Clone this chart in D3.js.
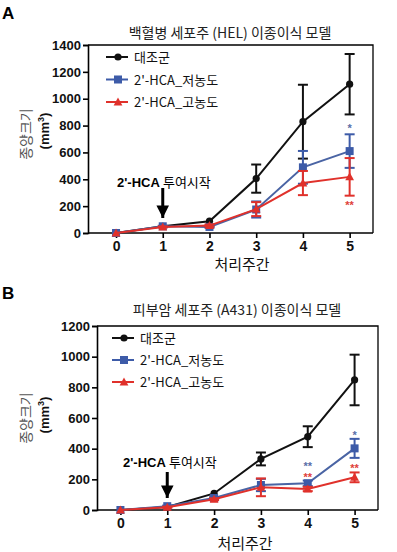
<!DOCTYPE html>
<html>
<head>
<meta charset="utf-8">
<script src="https://cdnjs.cloudflare.com/ajax/libs/d3/7.8.5/d3.min.js"></script>
<style>
  body { margin: 0; background: #fff; }
  svg { display: block; }
  text { font-family: "Liberation Sans", Arial, "Noto Sans CJK KR", sans-serif; }
  .kr { font-family: "Noto Sans CJK KR", "Liberation Sans", sans-serif; }
</style>
</head>
<body>
<div id="chart"></div>
<script>
// weeks of treatment
const weeks = [0, 1, 2, 3, 4, 5];
const seriesNames = ["대조군", "2'-HCA_저농도", "2'-HCA_고농도"];
const seriesColors = ["#111111", "#3d5ba8", "#e0312b"];
const seriesShapes = ["circle", "square", "triangle"];

// panel A: HEL
const helControl = [0, 50, 88, 405, 829, 1108];
const helControlErr = [0, 0, 0, 105, 275, 225];
const helLow = [0, 50, 45, 175, 489, 610];
const helLowErr = [0, 4, 6, 60, 122, 125];
const helHigh = [0, 45, 55, 178, 372, 418];
const helHighErr = [0, 4, 8, 52, 90, 140];
const helStars = [
  { week: 5, value: 790, text: "*", color: 1 },
  { week: 5, value: 215, text: "**", color: 2 }
];

// panel B: A431
const a431Control = [0, 20, 108, 333, 478, 848];
const a431ControlErr = [0, 0, 0, 42, 68, 165];
const a431Low = [0, 25, 78, 163, 174, 402];
const a431LowErr = [0, 4, 6, 40, 18, 62];
const a431High = [0, 18, 70, 148, 137, 213];
const a431HighErr = [0, 4, 6, 58, 14, 32];
const a431Stars = [
  { week: 4, value: 294, text: "**", color: 1 },
  { week: 4, value: 222, text: "**", color: 2 },
  { week: 5, value: 495, text: "*", color: 1 },
  { week: 5, value: 282, text: "**", color: 2 }
];

const svg = d3.select("#chart").append("svg")
  .attr("width", 397).attr("height", 552);

svg.append("defs").append("marker")
  .attr("id", "arrowHead")
  .attr("viewBox", "0 0 10 10")
  .attr("refX", 10).attr("refY", 5)
  .attr("markerWidth", 4.2).attr("markerHeight", 4.4)
  .attr("markerUnits", "strokeWidth")
  .attr("orient", "auto")
  .append("path").attr("d", "M0,0 L10,5 L0,10 Z").attr("fill", "#000");

function drawMarker(g, shape, cx, cy, color, size) {
  if (shape === "circle") {
    g.append("circle").attr("cx", cx).attr("cy", cy).attr("r", size * 0.45).attr("fill", color);
  } else if (shape === "square") {
    g.append("rect").attr("x", cx - size / 2).attr("y", cy - size / 2)
      .attr("width", size).attr("height", size).attr("fill", color);
  } else {
    const h = size * 0.95;
    g.append("path")
      .attr("d", `M${cx},${cy - h * 0.6} L${cx + size * 0.55},${cy + h * 0.45} L${cx - size * 0.55},${cy + h * 0.45} Z`)
      .attr("fill", color);
  }
}

function drawPanel(p) {
  const g = svg.append("g");
  const x = d3.scaleLinear().domain(p.xDomain).range([p.left, p.right]);
  const y = d3.scaleLinear().domain([0, p.yMax]).range([p.bottom, p.top]);

  // panel letter and title
  g.append("text").attr("x", 2).attr("y", p.letterY).text(p.letter)
    .attr("font-size", 17).attr("font-weight", "bold");
  g.append("text").attr("class", "kr").attr("x", p.titleX).attr("y", p.titleY)
    .attr("text-anchor", "middle").attr("font-size", 14).attr("fill", "#222").text(p.title);

  // frame (top and right)
  g.append("path")
    .attr("d", `M${p.left},${p.top} H${p.right} V${p.bottom}`)
    .attr("fill", "none").attr("stroke", "#000").attr("stroke-width", 1.3);

  // axes
  const yAxis = g.append("g").attr("transform", `translate(${p.left},0)`)
    .call(d3.axisLeft(y).tickValues(d3.range(0, p.yMax + 1, 200)).tickFormat(d3.format("d"))
      .tickSize(5).tickPadding(2));
  const xAxis = g.append("g").attr("transform", `translate(0,${p.bottom})`)
    .call(d3.axisBottom(x).tickValues(weeks).tickFormat(d3.format("d")).tickSize(5).tickPadding(3));
  [yAxis, xAxis].forEach(a => {
    a.select(".domain").attr("stroke-width", 1.6);
    a.selectAll(".tick line").attr("stroke-width", 1.6);
    a.selectAll("text").attr("font-size", 13).attr("font-weight", "bold")
      .attr("font-family", "'Liberation Sans', Arial, sans-serif").attr("fill", "#111");
  });
  xAxis.select(".domain").attr("d", `M${p.left},0H${p.right}`);
  xAxis.selectAll("text").attr("font-size", 14);

  // axis labels
  g.append("text").attr("class", "kr")
    .attr("transform", `translate(${p.ylabX},${p.ylabY}) rotate(-90)`)
    .attr("text-anchor", "middle").attr("font-size", 14).attr("fill", "#555").text("종양크기");
  const mm = g.append("text")
    .attr("transform", `translate(${p.ylabX + 18},${p.ylabY - 3}) rotate(-90)`)
    .attr("text-anchor", "middle").attr("font-size", 13).attr("font-weight", "bold").attr("fill", "#111");
  mm.append("tspan").text("(mm");
  mm.append("tspan").attr("baseline-shift", "super").attr("font-size", 9).text("3");
  mm.append("tspan").text(")");
  g.append("text").attr("class", "kr").attr("x", p.xlabX).attr("y", p.xlabY)
    .attr("text-anchor", "middle").attr("font-size", 15).attr("fill", "#111").text("처리주간");

  // series
  p.series.forEach((s, si) => {
    const color = seriesColors[si];
    const line = d3.line().x((d, i) => x(weeks[i])).y(d => y(d));
    g.append("path").datum(s.values).attr("d", line)
      .attr("fill", "none").attr("stroke", si === 1 ? "#4a64a4" : color).attr("stroke-width", 2);
    s.values.forEach((v, i) => {
      const e = s.err[i];
      if (e > 0) {
        const cx = x(weeks[i]);
        g.append("line").attr("x1", cx).attr("x2", cx).attr("y1", y(v - e)).attr("y2", y(v + e))
          .attr("stroke", color).attr("stroke-width", 2);
        [v - e, v + e].forEach(c => {
          g.append("line").attr("x1", cx - 5).attr("x2", cx + 5).attr("y1", y(c)).attr("y2", y(c))
            .attr("stroke", color).attr("stroke-width", 2);
        });
      }
    });
    s.values.forEach((v, i) => drawMarker(g, seriesShapes[si], x(weeks[i]), y(v), color, 8));
  });

  // significance stars
  p.stars.forEach(st => {
    g.append("text").attr("x", x(st.week)).attr("y", y(st.value) + 5)
      .attr("text-anchor", "middle").attr("font-size", 11).attr("font-weight", "bold")
      .attr("fill", st.color === 1 ? "#5a6ea8" : "#e0403a").text(st.text);
  });

  // legend
  seriesNames.forEach((name, i) => {
    const ly = p.legendY + i * p.legendGap;
    g.append("line").attr("x1", p.legendX).attr("x2", p.legendX + 22).attr("y1", ly).attr("y2", ly)
      .attr("stroke", seriesColors[i]).attr("stroke-width", 2);
    drawMarker(g, seriesShapes[i], p.legendX + 12, ly, seriesColors[i], 8);
    g.append("text").attr("class", "kr").attr("x", p.legendX + 28).attr("y", ly + 5)
      .attr("font-size", 13).attr("fill", "#111").text(name);
  });

  // treatment annotation
  const ann = g.append("text").attr("x", p.annX).attr("y", p.annY).attr("font-size", 13).attr("fill", "#000");
  ann.append("tspan").attr("font-weight", "bold").text("2'-HCA ");
  ann.append("tspan").attr("font-family", "'Noto Sans CJK KR', sans-serif").text("투여시작");
  g.append("line").attr("x1", x(1)).attr("x2", x(1))
    .attr("y1", p.arrowTop).attr("y2", p.arrowTip)
    .attr("stroke", "#000").attr("stroke-width", 3).attr("marker-end", "url(#arrowHead)");
}

drawPanel({
  letter: "A", letterY: 19, title: "백혈병 세포주 (HEL) 이종이식 모델", titleX: 230, titleY: 38,
  left: 88, right: 373, top: 45, bottom: 233, xDomain: [-0.6, 5.5], yMax: 1400,
  ylabX: 31, ylabY: 134, xlabX: 242, xlabY: 270,
  legendX: 106, legendY: 57, legendGap: 22.5,
  annX: 117, annY: 187, arrowTop: 188, arrowTip: 218,
  series: [
    { values: helControl, err: helControlErr },
    { values: helLow, err: helLowErr },
    { values: helHigh, err: helHighErr }
  ],
  stars: helStars
});

drawPanel({
  letter: "B", letterY: 299, title: "피부암 세포주 (A431) 이종이식 모델", titleX: 237, titleY: 315,
  left: 97, right: 378, top: 326, bottom: 510, xDomain: [-0.5, 5.5], yMax: 1200,
  ylabX: 31, ylabY: 418, xlabX: 245, xlabY: 549,
  legendX: 112, legendY: 338, legendGap: 22,
  annX: 123, annY: 467, arrowTop: 472, arrowTip: 498,
  series: [
    { values: a431Control, err: a431ControlErr },
    { values: a431Low, err: a431LowErr },
    { values: a431High, err: a431HighErr }
  ],
  stars: a431Stars
});
</script>
</body>
</html>
